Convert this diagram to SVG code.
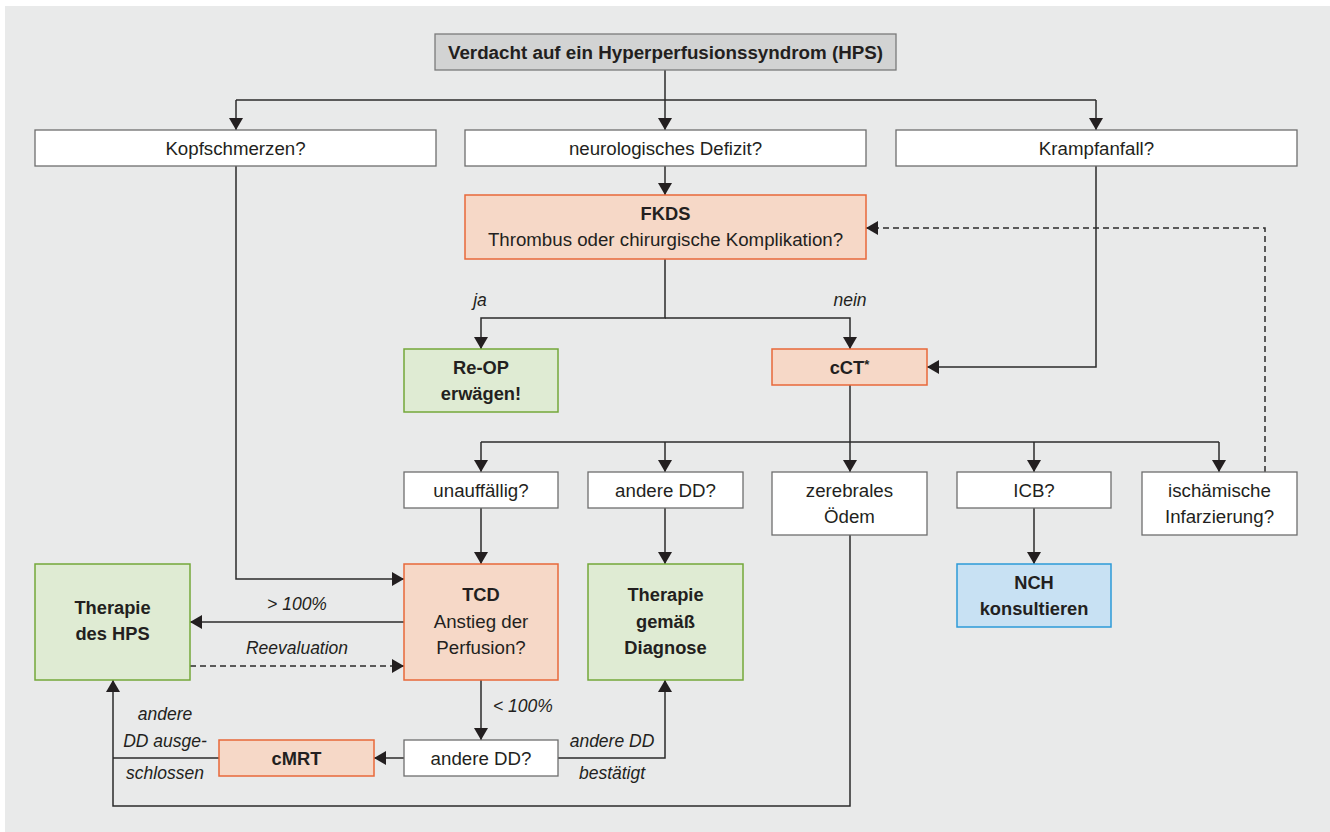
<svg xmlns="http://www.w3.org/2000/svg" width="1330" height="832" viewBox="0 0 1330 832">
<style>
text{font-family:"Liberation Sans",Arial,sans-serif;font-size:18.7px;fill:#231f20;text-anchor:middle}
.b{font-weight:bold;font-size:18.3px}
.i{font-style:italic;font-size:17.5px}
.w{fill:#ffffff;stroke:#6e6e6e;stroke-width:1.3}
.o{fill:#f6d8c7;stroke:#e8683a;stroke-width:1.5}
.g{fill:#dfebd3;stroke:#74a83a;stroke-width:1.5}
.bl{fill:#c8e1f3;stroke:#2d9ad8;stroke-width:1.5}
.t{fill:#d2d3d3;stroke:#7a7a7a;stroke-width:1.3}
.c{fill:none;stroke:#2b2b2b;stroke-width:1.5}
.d{stroke-dasharray:6 4}
</style>
<defs>
<marker id="ah" markerUnits="userSpaceOnUse" markerWidth="13" markerHeight="14" refX="12" refY="7" orient="auto">
<path d="M0,0 L12,7 L0,14 z" fill="#231f20"/>
</marker>
</defs>
<rect x="5" y="6" width="1325" height="826" fill="#e9eaea"/>
<g id="connectors">
<path class="c" d="M665,70 V130" marker-end="url(#ah)"/>
<path class="c" d="M236,100 H1096"/>
<path class="c" d="M236,100 V130" marker-end="url(#ah)"/>
<path class="c" d="M1096,100 V130" marker-end="url(#ah)"/>
<path class="c" d="M665,166 V195" marker-end="url(#ah)"/>
<path class="c" d="M665,259 V318 H481 V349" marker-end="url(#ah)"/>
<path class="c" d="M665,318 H850 V349" marker-end="url(#ah)"/>
<path class="c" d="M1096,166 V367 H927" marker-end="url(#ah)"/>
<path class="c d" d="M1265,472 V228 H866" marker-end="url(#ah)"/>
<path class="c" d="M850,385 V472" marker-end="url(#ah)"/>
<path class="c" d="M481,442 H1219"/>
<path class="c" d="M481,442 V472" marker-end="url(#ah)"/>
<path class="c" d="M665,442 V472" marker-end="url(#ah)"/>
<path class="c" d="M1034,442 V472" marker-end="url(#ah)"/>
<path class="c" d="M1219,442 V472" marker-end="url(#ah)"/>
<path class="c" d="M481,508 V564" marker-end="url(#ah)"/>
<path class="c" d="M665,508 V564" marker-end="url(#ah)"/>
<path class="c" d="M1034,508 V564" marker-end="url(#ah)"/>
<path class="c" d="M236,166 V579 H404" marker-end="url(#ah)"/>
<path class="c" d="M404,622 H190" marker-end="url(#ah)"/>
<path class="c d" d="M190,666 H404" marker-end="url(#ah)"/>
<path class="c" d="M481,680 V740" marker-end="url(#ah)"/>
<path class="c" d="M404,758 H374" marker-end="url(#ah)"/>
<path class="c" d="M219,758 H113"/>
<path class="c" d="M850,535 V806 H113 V680" marker-end="url(#ah)"/>
<path class="c" d="M558,758 H665 V680" marker-end="url(#ah)"/>
<text class="i" x="480" y="306">ja</text>
<text class="i" x="850" y="306">nein</text>
<text class="i" x="297" y="610">&gt; 100%</text>
<text class="i" x="297" y="654">Reevaluation</text>
<text class="i" x="493" y="712" style="text-anchor:start">&lt; 100%</text>
<text class="i" x="612" y="747">andere DD</text>
<text class="i" x="612" y="779">bestätigt</text>
<text class="i" x="165" y="720">andere</text>
<text class="i" x="165" y="747">DD ausge-</text>
<text class="i" x="165" y="779">schlossen</text>
</g>
<g id="n-title"><rect class="t" x="435" y="34" width="461" height="36"/><text class="b" x="665.5" y="58.5" style="font-size:18.8px">Verdacht auf ein Hyperperfusionssyndrom (HPS)</text></g>
<g id="n-kopf"><rect class="w" x="35" y="130" width="401" height="36"/><text x="235.5" y="154.5">Kopfschmerzen?</text></g>
<g id="n-neuro"><rect class="w" x="465" y="130" width="401" height="36"/><text x="665.5" y="154.5">neurologisches Defizit?</text></g>
<g id="n-krampf"><rect class="w" x="896" y="130" width="401" height="36"/><text x="1096.5" y="154.5">Krampfanfall?</text></g>
<g id="n-fkds"><rect class="o" x="465" y="195" width="401" height="64"/><text class="b" x="665.5" y="220">FKDS</text><text x="665.5" y="246">Thrombus oder chirurgische Komplikation?</text></g>
<g id="n-reop"><rect class="g" x="404" y="349" width="154" height="63"/><text class="b" x="481" y="374">Re-OP</text><text class="b" x="481" y="400">erwägen!</text></g>
<g id="n-cct"><rect class="o" x="772" y="349" width="155" height="36"/><text class="b" x="849.5" y="373.5">cCT<tspan dy="-5" font-size="13">*</tspan></text></g>
<g id="n-unauff"><rect class="w" x="404" y="472" width="154" height="36"/><text x="481" y="496.5">unauffällig?</text></g>
<g id="n-anddd1"><rect class="w" x="588" y="472" width="155" height="36"/><text x="665.5" y="496.5">andere DD?</text></g>
<g id="n-oedem"><rect class="w" x="772" y="472" width="155" height="63"/><text x="849.5" y="497">zerebrales</text><text x="849.5" y="523">Ödem</text></g>
<g id="n-icb"><rect class="w" x="957" y="472" width="154" height="36"/><text x="1034" y="496.5">ICB?</text></g>
<g id="n-isch"><rect class="w" x="1142" y="472" width="155" height="63"/><text x="1219.5" y="497">ischämische</text><text x="1219.5" y="523">Infarzierung?</text></g>
<g id="n-nch"><rect class="bl" x="957" y="564" width="154" height="63"/><text class="b" x="1034" y="589">NCH</text><text class="b" x="1034" y="615">konsultieren</text></g>
<g id="n-thhps"><rect class="g" x="35" y="564" width="155" height="116"/><text class="b" x="112.5" y="614">Therapie</text><text class="b" x="112.5" y="640">des HPS</text></g>
<g id="n-tcd"><rect class="o" x="404" y="564" width="154" height="116"/><text class="b" x="481" y="601">TCD</text><text x="481" y="628">Anstieg der</text><text x="481" y="654">Perfusion?</text></g>
<g id="n-thdiag"><rect class="g" x="588" y="564" width="155" height="116"/><text class="b" x="665.5" y="601">Therapie</text><text class="b" x="665.5" y="628">gemäß</text><text class="b" x="665.5" y="654">Diagnose</text></g>
<g id="n-anddd2"><rect class="w" x="404" y="740" width="154" height="36"/><text x="481" y="764.5">andere DD?</text></g>
<g id="n-cmrt"><rect class="o" x="219" y="740" width="155" height="36"/><text class="b" x="296.5" y="764.5">cMRT</text></g>
</svg>
